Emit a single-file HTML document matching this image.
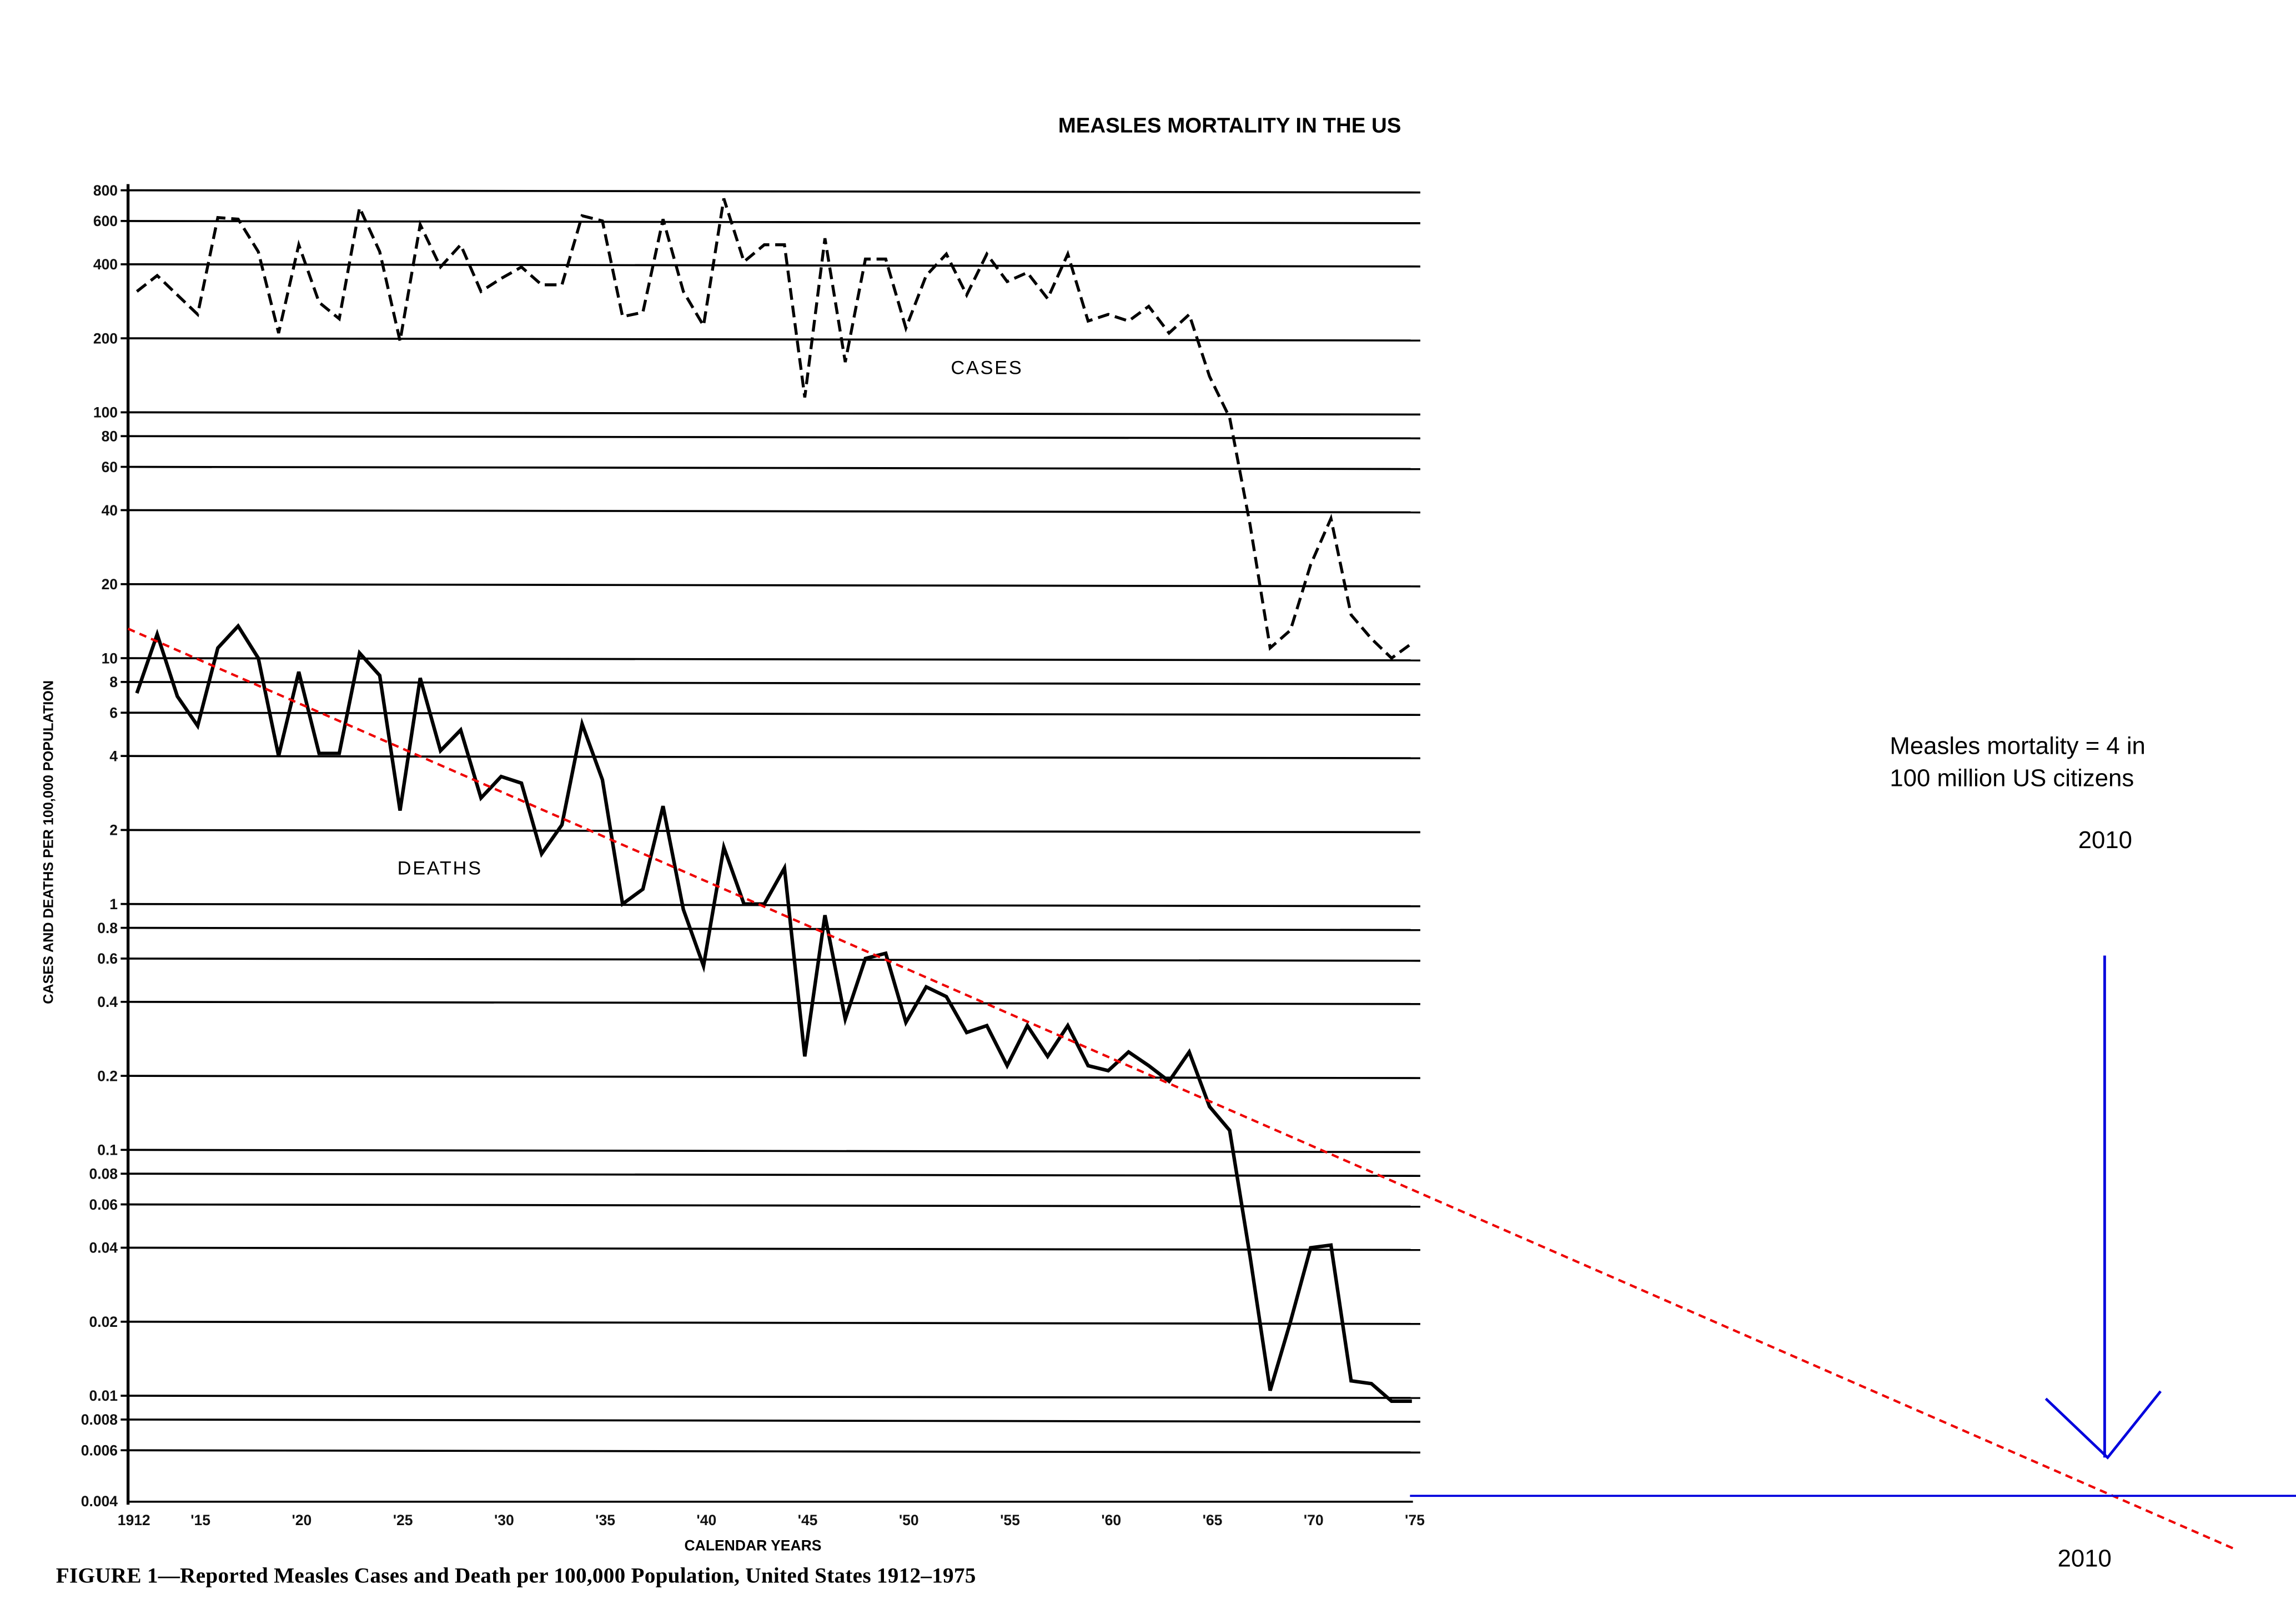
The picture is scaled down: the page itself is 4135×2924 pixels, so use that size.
<!DOCTYPE html>
<html><head><meta charset="utf-8"><style>
html,body{margin:0;padding:0;background:#fff;}
svg{display:block;}
</style></head><body>
<svg id="s" width="4135" height="2924" viewBox="0 0 1560 1103" xmlns="http://www.w3.org/2000/svg">
<rect width="1560" height="1103" fill="#fff"/>
<g id="grid" stroke="#000" stroke-width="1.4"></g>
<g id="lab" font-family="Liberation Sans, sans-serif" font-size="10" font-weight="bold" fill="#111"></g>
<text x="719" y="90" font-family="Liberation Sans, sans-serif" font-size="14.5" font-weight="bold">MEASLES MORTALITY IN THE US</text>
<text x="646" y="254" font-family="Liberation Sans, sans-serif" font-size="13" letter-spacing="1">CASES</text>
<text x="270" y="594" font-family="Liberation Sans, sans-serif" font-size="13" letter-spacing="1">DEATHS</text>
<text transform="translate(36,572) rotate(-90)" text-anchor="middle" font-family="Liberation Sans, sans-serif" font-size="9.5" font-weight="bold">CASES AND DEATHS PER 100,000 POPULATION</text>
<text x="465" y="1053" font-family="Liberation Sans, sans-serif" font-size="10" font-weight="bold">CALENDAR YEARS</text>
<text x="38" y="1075" font-family="Liberation Serif, serif" font-size="14.8" font-weight="bold" textLength="625">FIGURE 1—Reported Measles Cases and Death per 100,000 Population, United States 1912–1975</text>
<polyline id="cases" fill="none" stroke="#000" stroke-width="2" stroke-dasharray="8,4"/>
<polyline id="deaths" fill="none" stroke="#000" stroke-width="2.4" stroke-linejoin="miter"/>
<line x1="87" y1="427" x2="1518" y2="1052" stroke="#e00" stroke-width="1.6" stroke-dasharray="5,3.5"/>
<line x1="958" y1="1016" x2="1560" y2="1016" stroke="#00d" stroke-width="1.4"/>
<line x1="1430" y1="649" x2="1430" y2="990" stroke="#00d" stroke-width="1.8"/>
<polyline points="1390,950 1432,990 1468,945" fill="none" stroke="#00d" stroke-width="1.8"/>
<g font-family="Liberation Sans, sans-serif" font-size="16.5" fill="#000">
<text x="1284" y="512">Measles mortality = 4 in</text>
<text x="1284" y="534">100 million US citizens</text>
<text x="1412" y="576">2010</text>
<text x="1398" y="1064">2010</text>
</g>
</svg>
<script>
var NS="http://www.w3.org/2000/svg";
function Y(v){return 614-167*Math.log10(v);}
function X(y){return 93+(y-1912)*13.75;}
var g=document.getElementById('grid'),lab=document.getElementById('lab');
function el(p,t,a,txt){var e=document.createElementNS(NS,t);for(var k in a)e.setAttribute(k,a[k]);if(txt)e.textContent=txt;p.appendChild(e);return e;}
var vals=[800,600,400,200,100,80,60,40,20,10,8,6,4,2,1,0.8,0.6,0.4,0.2,0.1,0.08,0.06,0.04,0.02,0.01,0.008,0.006];
var names=["800","600","400","200","100","80","60","40","20","10","8","6","4","2","1","0.8","0.6","0.4","0.2","0.1","0.08","0.06","0.04","0.02","0.01","0.008","0.006"];
vals.forEach(function(v,i){var y=Y(v);el(g,'line',{x1:82,y1:y,x2:965,y2:y+1.5});
el(lab,'text',{x:80,y:y+3.5,'text-anchor':'end'},names[i]);});
el(lab,'text',{x:80,y:1023,'text-anchor':'end'},"0.004");
el(g,'line',{x1:87,y1:125,x2:87,y2:1022,'stroke-width':2});
el(g,'line',{x1:87,y1:1020,x2:960,y2:1020});
var xl=[[1912,"1912"],[1915,"'15"],[1920,"'20"],[1925,"'25"],[1930,"'30"],[1935,"'35"],[1940,"'40"],[1945,"'45"],[1950,"'50"],[1955,"'55"],[1960,"'60"],[1965,"'65"],[1970,"'70"],[1975,"'75"]];
xl.forEach(function(d){el(lab,'text',{x:X(d[0])+(d[0]==1912?-2:2),y:1036,'text-anchor':'middle'},d[1]);});
var cases=[310,360,300,250,620,610,450,210,480,280,240,680,450,195,580,390,480,310,350,390,330,330,630,600,245,255,610,310,225,740,410,480,480,115,510,160,420,420,220,360,440,300,440,340,370,290,440,235,250,235,270,210,250,140,95,35,11,13,24,37,15,12,10,11.5];
var deaths=[7.2,12.5,7,5.3,11,13.5,10,4,8.8,4.1,4.1,10.5,8.5,2.4,8.3,4.2,5.1,2.7,3.3,3.1,1.6,2.1,5.4,3.2,1.0,1.15,2.5,0.95,0.56,1.7,1.0,1.0,1.4,0.24,0.9,0.34,0.6,0.63,0.33,0.46,0.42,0.3,0.32,0.22,0.32,0.24,0.32,0.22,0.21,0.25,0.22,0.19,0.25,0.15,0.12,0.037,0.0105,0.02,0.04,0.041,0.0115,0.0112,0.0095,0.0095];
function pts(a){return a.map(function(v,i){return X(1912+i).toFixed(1)+","+Y(v).toFixed(1);}).join(" ");}
document.getElementById('cases').setAttribute('points',pts(cases));
document.getElementById('deaths').setAttribute('points',pts(deaths));
</script>
</body></html>
